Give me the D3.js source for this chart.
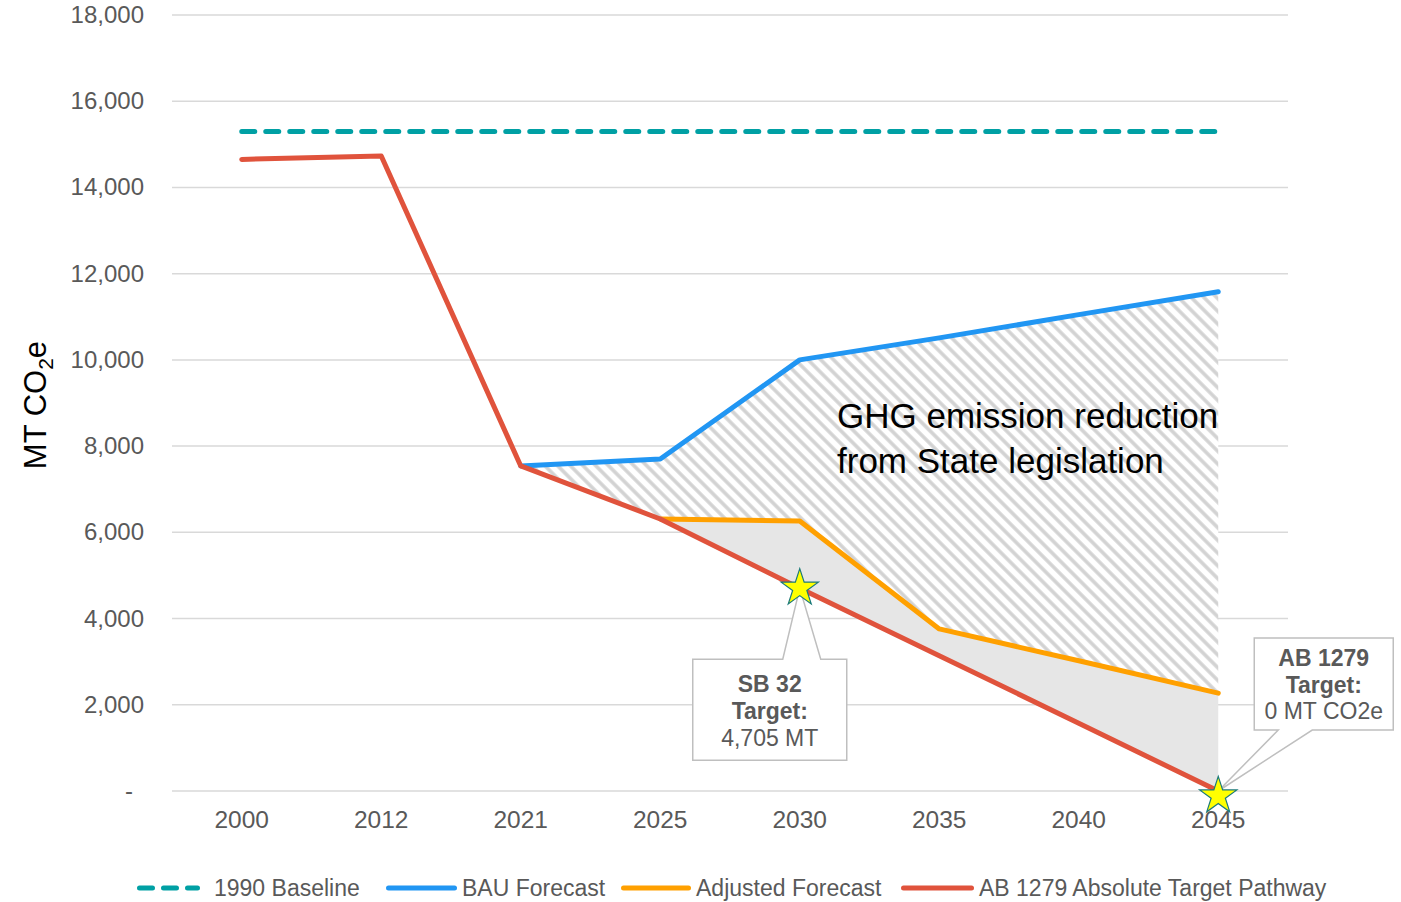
<!DOCTYPE html>
<html>
<head>
<meta charset="utf-8">
<script src="https://cdn.jsdelivr.net/npm/d3@7"></script>
<style>
  body { margin: 0; background: #fff; }
  text { font-family: "Liberation Sans", Arial, sans-serif; }
</style>
</head>
<body>
<div class="chart"></div>
<script>
var years = ["2000", "2012", "2021", "2025", "2030", "2035", "2040", "2045"]
var baseline = [15300, 15300, 15300, 15300, 15300, 15300, 15300, 15300]
var bau = [null, null, 7540, 7700, 10000, 10510, 11050, 11580]
var adjusted = [null, null, null, 6310, 6265, 3760, 3020, 2270]
var target = [14650, 14730, 7540, 6310, 4705, 3140, 1570, 0]
var yTicks = [0, 2000, 4000, 6000, 8000, 10000, 12000, 14000, 16000, 18000]
var seriesNames = ["1990 Baseline", "BAU Forecast", "Adjusted Forecast", "AB 1279 Absolute Target Pathway"]
var colors = ["#00a0a4", "#2196f3", "#ffa000", "#e0533c"]

var width = 1401, height = 902

var svg = d3.select(".chart").append("svg")
  .attr("width", width)
  .attr("height", height)

var x = d3.scalePoint().domain(years).range([241.75, 1218.25])
var y = d3.scaleLinear().domain([0, 18000]).range([791, 15])
var left = 172, right = 1288

// hatch pattern
var defs = svg.append("defs")
var pat = defs.append("pattern")
  .attr("id", "hatch")
  .attr("patternUnits", "userSpaceOnUse")
  .attr("width", 9).attr("height", 9)
  .attr("patternTransform", "rotate(-45)")
pat.append("rect").attr("width", 9).attr("height", 9).attr("fill", "#fff")
pat.append("line").attr("x1", 2).attr("x2", 2).attr("y1", 0).attr("y2", 9)
  .attr("stroke", "#d2d2d2").attr("stroke-width", 3.5)

// gridlines
svg.append("g").selectAll("line")
  .data(yTicks)
  .enter().append("line")
  .attr("x1", left).attr("x2", right)
  .attr("y1", d => y(d)).attr("y2", d => y(d))
  .attr("stroke", "#d9d9d9").attr("stroke-width", 1.5)

// y tick labels
svg.append("g").selectAll("text")
  .data(yTicks)
  .enter().append("text")
  .attr("x", d => d === 0 ? 133 : 144)
  .attr("y", d => y(d) + 8)
  .attr("text-anchor", "end")
  .attr("font-size", 24)
  .attr("fill", "#595959")
  .text(d => d === 0 ? "-" : d3.format(",")(d))

// x tick labels
svg.append("g").selectAll("text")
  .data(years)
  .enter().append("text")
  .attr("x", d => x(d))
  .attr("y", 828)
  .attr("text-anchor", "middle")
  .attr("font-size", 24.5)
  .attr("fill", "#595959")
  .text(d => d)

// y axis title
var yt = svg.append("text")
  .attr("transform", "translate(46,405) rotate(-90)")
  .attr("text-anchor", "middle")
  .attr("font-size", 31)
  .attr("fill", "#000")
yt.append("tspan").text("MT CO")
yt.append("tspan").attr("font-size", 21).attr("dy", 7).text("2")
yt.append("tspan").attr("dy", -7).text("e")

// areas
var rows = years.map(function (yr, i) {
  return {year: yr, bau: bau[i], adj: adjusted[i], tgt: target[i]}
})

var hatchArea = d3.area()
  .defined(d => d.bau != null)
  .x(d => x(d.year))
  .y0(d => y(d.adj != null ? d.adj : d.tgt))
  .y1(d => y(d.bau))
svg.append("path").datum(rows)
  .attr("d", hatchArea)
  .attr("fill", "url(#hatch)")

var greyArea = d3.area()
  .defined(d => d.adj != null)
  .x(d => x(d.year))
  .y0(d => y(d.tgt))
  .y1(d => y(d.adj))
svg.append("path").datum(rows)
  .attr("d", greyArea)
  .attr("fill", "#e6e6e6")

// annotation text
var note = svg.append("text")
  .attr("x", 837).attr("font-size", 35).attr("fill", "#000")
note.append("tspan").attr("x", 837).attr("y", 428).text("GHG emission reduction")
note.append("tspan").attr("x", 837).attr("y", 473).text("from State legislation")

// lines
var all = [baseline, bau, adjusted, target]
var line = d3.line()
  .defined(d => d[1] != null)
  .x(d => x(d[0]))
  .y(d => y(d[1]))

all.forEach(function (vals, k) {
  svg.append("path")
    .datum(years.map((yr, i) => [yr, vals[i]]))
    .attr("d", line)
    .attr("fill", "none")
    .attr("stroke", colors[k])
    .attr("stroke-width", 5)
    .attr("stroke-linejoin", "round")
    .attr("stroke-linecap", "round")
    .attr("stroke-dasharray", k === 0 ? "13 11" : null)
})

// callouts
function callout(cx, cy, box, wedge, lines) {
  var bx0 = cx + box[0], bx1 = cx + box[1], by0 = cy + box[2], by1 = cy + box[3]
  var p
  if (wedge.side === "top") {
    p = [[bx0, by0], [cx + wedge.a, by0], [cx, cy], [cx + wedge.b, by0], [bx1, by0], [bx1, by1], [bx0, by1]]
  } else {
    p = [[bx0, by0], [bx1, by0], [bx1, by1], [cx + wedge.b, by1], [cx, cy], [cx + wedge.a, by1], [bx0, by1]]
  }
  svg.append("path")
    .attr("d", d3.line()(p) + "Z")
    .attr("fill", "#fff")
    .attr("stroke", "#bfbfbf")
    .attr("stroke-width", 1.5)
  var mid = (bx0 + bx1) / 2
  lines.forEach(function (l, i) {
    svg.append("text")
      .attr("x", mid).attr("y", by0 + l.dy)
      .attr("text-anchor", "middle")
      .attr("font-size", 23)
      .attr("font-weight", l.bold ? "bold" : "normal")
      .attr("fill", "#595959")
      .text(l.t)
  })
}

callout(x("2030"), y(4705), [-107, 47, 71, 172], {side: "top", a: -17, b: 21}, [
  {t: "SB 32", bold: true, dy: 33},
  {t: "Target:", bold: true, dy: 60},
  {t: "4,705 MT", bold: false, dy: 87}
])
callout(x("2045"), y(0), [36, 175, -153, -61], {side: "bottom", a: 60, b: 94}, [
  {t: "AB 1279", bold: true, dy: 28},
  {t: "Target:", bold: true, dy: 55},
  {t: "0 MT CO2e", bold: false, dy: 81}
])

// stars
var stars = [["2030", target[4]], ["2045", target[7]]]
svg.append("g").selectAll("path")
  .data(stars)
  .enter().append("path")
  .attr("d", d3.symbol().type(d3.symbolStar).size(430))
  .attr("transform", (d, i) => `translate(${x(d[0])},${y(d[1]) + (i === 1 ? 5 : 0)})`)
  .attr("fill", "#ffff00")
  .attr("stroke", "#1b7a7a")
  .attr("stroke-width", 1.2)

// legend
var legendX = [137, 386, 621, 901]
var legendW = [63, 71, 70, 73]
var lg = svg.append("g").selectAll("g")
  .data(seriesNames)
  .enter().append("g")
  .attr("transform", (d, i) => `translate(${legendX[i]},888)`)
lg.append("line")
  .attr("x1", 2.5).attr("x2", (d, i) => legendW[i] - 2.5)
  .attr("stroke", (d, i) => colors[i])
  .attr("stroke-width", 5)
  .attr("stroke-linecap", "round")
  .attr("stroke-dasharray", (d, i) => i === 0 ? "13 11" : null)
lg.append("text")
  .attr("x", (d, i) => legendW[i] + (i === 0 ? 14 : 5))
  .attr("y", 8)
  .attr("font-size", 23)
  .attr("fill", "#595959")
  .text(d => d)
</script>
</body>
</html>
